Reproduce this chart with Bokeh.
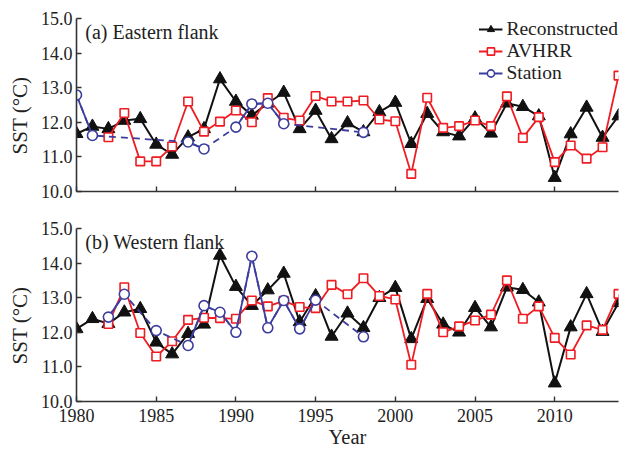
import math

from bokeh.embed import file_html
from bokeh.resources import INLINE
from bokeh.plotting import figure
from bokeh.layouts import column
from bokeh.models import (Range1d, FixedTicker, PrintfTickFormatter, Legend,
                          LegendItem, Label)

NAN = float("nan")

years = list(range(1980, 2015))
avhrr_years = list(range(1982, 2015))

# Eastern flank
rec_east = [11.67, 11.88, 11.81, 12.05, 12.10, 11.36, 11.07, 11.57, 11.81, 13.25,
            12.60, 12.20, 12.55, 12.86, 11.81, 12.34, 11.52, 11.98, 11.72, 12.30,
            12.57, 11.38, 12.25, 11.72, 11.60, 12.12, 11.68, 12.55, 12.45, 12.18,
            10.40, 11.66, 12.43, 11.56, 12.18]
avhrr_east = [11.57, 12.27, 10.87, 10.87, 11.30, 12.60, 11.73, 12.02, 12.34, 12.00,
              12.70, 12.13, 12.05, 12.76, 12.60, 12.60, 12.63, 12.08, 12.03, 10.51,
              12.71, 11.84, 11.89, 12.05, 11.89, 12.75, 11.55, 12.15, 10.85, 11.33,
              10.95, 11.28, 13.35]
station_east_years = [1980, 1981, 1987, 1988, 1990, 1991, 1992, 1993, 1998]
station_east = [12.79, 11.62, 11.43, 11.23, 11.86, 12.53, 12.55, 11.96, 11.71]

# Western flank
rec_west = [12.10, 12.39, 12.25, 12.58, 12.68, 11.71, 11.37, 11.96, 12.23, 14.22,
            13.32, 12.77, 13.22, 13.70, 12.30, 13.05, 11.88, 12.55, 12.13, 13.00,
            13.29, 11.81, 12.97, 12.23, 12.00, 12.71, 12.15, 13.30, 13.23, 12.87,
            10.53, 12.15, 13.11, 12.02, 12.85]
avhrr_west = [12.24, 13.30, 11.98, 11.30, 11.74, 12.36, 12.42, 12.41, 12.39, 12.92,
              12.75, 12.91, 12.73, 12.70, 13.37, 13.10, 13.56, 13.05, 12.95, 11.06,
              13.11, 12.00, 12.17, 12.34, 12.51, 13.50, 12.39, 12.75, 11.84, 11.36,
              12.20, 12.07, 13.11]
station_west_years = [1982, 1983, 1985, 1987, 1988, 1989, 1990, 1991, 1992, 1993,
                      1994, 1995, 1998]
station_west = [12.44, 13.10, 12.05, 11.62, 12.77, 12.58, 12.00, 14.20, 12.13, 12.92,
                12.10, 12.93, 11.87]

x_ticks = [1980, 1985, 1990, 1995, 2000, 2005, 2010]
y_ticks = [10, 11, 12, 13, 14, 15]

FONT = "Liberation Serif"
BLACK = "#111111"
RED = "#ee1d23"
BLUE = "#3d3d9e"
TEXT = "#222222"


def full_series(sub_years, sub_vals):
    """Spread a sparse series over all years, NaN where a year is missing."""
    lookup = dict(zip(sub_years, sub_vals))
    return [lookup.get(y, NAN) for y in years]


def make_panel(title, rec, avhrr, st_years, st_vals, height, top, bottom,
               show_x_labels, with_legend):
    p = figure(width=623, height=height, output_backend="svg",
               toolbar_location=None, x_range=Range1d(1980, 2014),
               y_range=Range1d(10, 15), min_border_left=76,
               min_border_right=5, min_border_top=top,
               min_border_bottom=bottom)
    p.outline_line_color = None
    p.grid.visible = False
    p.background_fill_color = "white"
    p.border_fill_color = "white"

    for ax in (p.xaxis[0], p.yaxis[0]):
        ax.axis_line_color = "#333333"
        ax.axis_line_width = 1.6
        ax.major_tick_line_color = "#333333"
        ax.major_tick_line_width = 1.4
        ax.major_tick_in = 5
        ax.major_tick_out = 0
        ax.minor_tick_line_color = None
        ax.major_label_text_font = FONT
        ax.major_label_text_font_size = "18px"
        ax.major_label_text_color = TEXT
        ax.axis_label_text_font = FONT
        ax.axis_label_text_font_style = "normal"
        ax.axis_label_text_font_size = "21px"
        ax.axis_label_text_color = TEXT

    p.xaxis.ticker = FixedTicker(ticks=x_ticks)
    p.yaxis.ticker = FixedTicker(ticks=y_ticks)
    p.yaxis.formatter = PrintfTickFormatter(format="%.1f")
    # trailing spaces nudge the rotated title a little below the axis middle
    p.yaxis.axis_label = "SST (°C)\u00a0\u00a0\u00a0\u00a0"
    p.yaxis.major_label_standoff = 4
    p.yaxis.axis_label_standoff = 6

    if show_x_labels:
        p.xaxis.axis_label = "Year"
        p.xaxis.axis_label_text_font_size = "20.5px"
        p.xaxis.major_label_standoff = 7
        p.xaxis.axis_label_standoff = 1
    else:
        p.xaxis.major_label_text_color = None
        p.xaxis.major_label_text_font_size = "10px"
        p.xaxis.major_label_standoff = 0

    # Reconstructed series
    r_line = p.line(years, rec, color=BLACK, line_width=2)
    r_mark = p.scatter(years, rec, marker="triangle", size=13,
                       fill_color=BLACK, line_color=BLACK)

    # AVHRR series
    a_line = p.line(avhrr_years, avhrr, color=RED, line_width=1.8)
    a_mark = p.scatter(avhrr_years, avhrr, marker="square", size=8.5,
                       fill_color="white", line_color=RED, line_width=1.6)

    # Station series: dashed across gaps, solid between consecutive years
    p.line(st_years, st_vals, color=BLUE, line_width=1.8, line_dash="7 5")
    s_line = p.line(years, full_series(st_years, st_vals), color=BLUE,
                    line_width=1.8)
    s_mark = p.scatter(st_years, st_vals, marker="circle", size=10,
                       fill_color="white", line_color=BLUE, line_width=1.6)

    p.add_layout(Label(x=1980.55, y=14.62, text=title, text_font=FONT,
                       text_font_size="20px", text_color=TEXT,
                       text_baseline="middle"))

    if with_legend:
        legend = Legend(items=[
            LegendItem(label="Reconstructed", renderers=[r_line, r_mark]),
            LegendItem(label="AVHRR", renderers=[a_line, a_mark]),
            LegendItem(label="Station", renderers=[s_line, s_mark]),
        ], location="top_right")
        legend.label_text_font = FONT
        legend.label_text_font_size = "19.5px"
        legend.label_text_color = TEXT
        legend.glyph_width = 24
        legend.glyph_height = 18
        legend.label_height = 18
        legend.label_standoff = 4
        legend.spacing = 0
        legend.padding = 1
        legend.margin = 0
        legend.border_line_color = None
        legend.background_fill_alpha = 0
        p.add_layout(legend)

    return p


p_east = make_panel("(a) Eastern flank", rec_east, avhrr_east,
                    station_east_years, station_east,
                    height=210, top=18, bottom=19,
                    show_x_labels=False, with_legend=True)
p_west = make_panel("(b) Western flank", rec_west, avhrr_west,
                    station_west_years, station_west,
                    height=242, top=18, bottom=51,
                    show_x_labels=True, with_legend=False)

layout = column(p_east, p_west, spacing=0)

open("out.html", "w").write(file_html(layout, INLINE))
